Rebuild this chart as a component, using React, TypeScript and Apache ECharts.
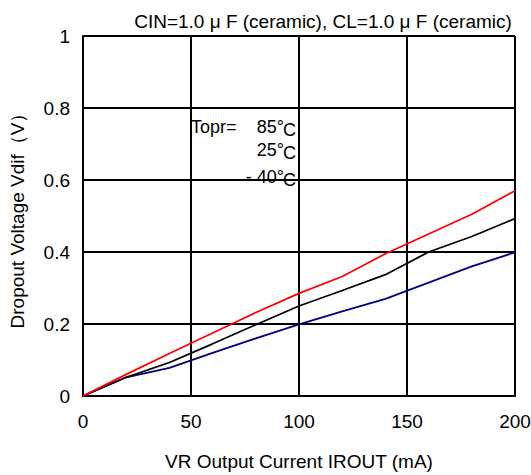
import React, { useEffect, useRef } from "react";
import * as echarts from "echarts";

const currents = [0, 20, 40, 60, 80, 100, 120, 140, 160, 180, 200];
const v85 = [0, 0.06, 0.118, 0.175, 0.232, 0.285, 0.332, 0.395, 0.45, 0.505, 0.57];
const v25 = [0, 0.052, 0.093, 0.145, 0.198, 0.25, 0.293, 0.337, 0.4, 0.443, 0.493];
const vm40 = [0, 0.052, 0.078, 0.12, 0.16, 0.199, 0.235, 0.27, 0.315, 0.36, 0.399];
const seriesNames = ["85℃", "25℃", "-40℃"];
const seriesColors = ["#ff0000", "#000000", "#000080"];
const tempLabels = ["85°", "25°", "- 40°"];

const FONT = "Liberation Sans";

export default function App() {
  const ref = useRef<HTMLDivElement>(null);
  useEffect(() => {
    const chart = echarts.init(ref.current!, undefined, { renderer: "svg" });
    const sets = [v85, v25, vm40];
    const tempY = [127, 150, 177];
    const graphics: any[] = [
      {
        type: "text",
        x: 191,
        y: 127,
        style: { text: "Topr=", font: `18px "${FONT}"`, fill: "#000", verticalAlign: "middle", align: "left" },
        z: 20,
      },
    ];
    tempLabels.forEach((t, i) => {
      graphics.push({
        type: "text",
        x: 284,
        y: tempY[i],
        style: { text: t, font: `18px "${FONT}"`, fill: "#000", verticalAlign: "middle", align: "right" },
        z: 20,
      });
      graphics.push({
        type: "text",
        x: 283,
        y: tempY[i] + 3,
        style: { text: "C", font: `18px "${FONT}"`, fill: "#000", verticalAlign: "middle", align: "left" },
        z: 20,
      });
    });
    chart.setOption({
      animation: false,
      textStyle: { fontFamily: FONT },
      title: {
        text: "CIN=1.0 μ F (ceramic), CL=1.0 μ F (ceramic)",
        left: 318,
        top: 7,
        textAlign: "center",
        textStyle: { fontFamily: FONT, fontSize: 19, fontWeight: "normal", color: "#000" },
      },
      grid: { left: 83, right: 16, top: 36, bottom: 79, containLabel: false, outerBoundsMode: "none" },
      xAxis: {
        type: "value",
        min: 0,
        max: 200,
        interval: 50,
        name: "VR Output Current IROUT (mA)",
        nameLocation: "middle",
        nameGap: 56,
        nameTextStyle: { fontFamily: FONT, fontSize: 19, color: "#000" },
        axisLine: { lineStyle: { color: "#000", width: 2 } },
        axisTick: { show: false },
        axisLabel: { fontFamily: FONT, fontSize: 19, color: "#000", margin: 16 },
        splitLine: { show: true, lineStyle: { color: "#000", width: 2 } },
      },
      yAxis: {
        type: "value",
        min: 0,
        max: 1,
        interval: 0.2,
        name: "Dropout Voltage Vdif（V）",
        nameLocation: "middle",
        nameGap: 56,
        nameTextStyle: { fontFamily: FONT, fontSize: 19, color: "#000" },
        axisLine: { show: true, lineStyle: { color: "#000", width: 2 } },
        axisTick: { show: false },
        axisLabel: { fontFamily: FONT, fontSize: 19, color: "#000", margin: 13 },
        splitLine: { show: true, lineStyle: { color: "#000", width: 2 } },
      },
      series: sets.map((s, i) => ({
        name: seriesNames[i],
        type: "line",
        data: currents.map((c, j) => [c, s[j]]),
        symbol: "none",
        lineStyle: { color: seriesColors[i], width: 1.8 },
        z: 5 - i,
      })),
      graphic: graphics,
    });
    return () => chart.dispose();
  }, []);
  return (
    <div
      ref={ref}
      style={{ width: 531, height: 475, position: "absolute", left: 0, top: 0 }}
    />
  );
}
